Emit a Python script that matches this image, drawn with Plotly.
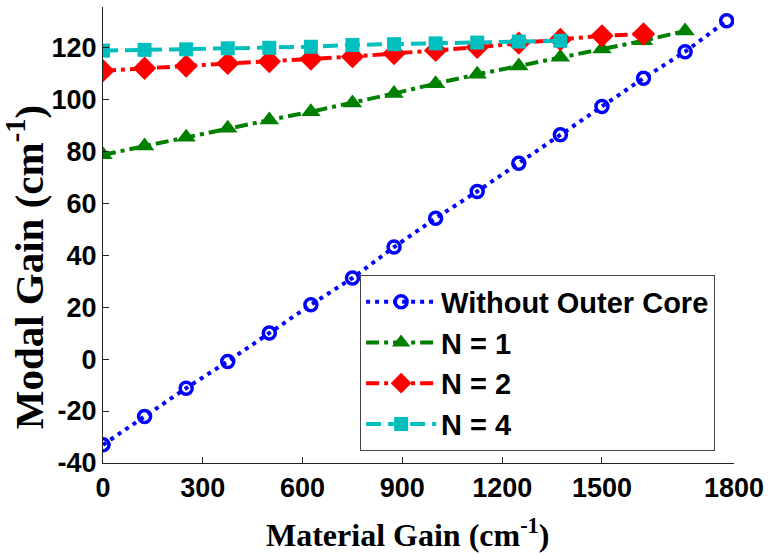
import plotly.graph_objects as go

# Material gain (cm^-1) sample points
gain_without = [0, 125, 250, 375, 500, 625, 750, 875, 1000, 1125, 1250, 1375, 1500, 1625, 1750, 1875]
gain_n1 = [0, 125, 250, 375, 500, 625, 750, 875, 1000, 1125, 1250, 1375, 1500, 1625, 1750]
gain_n2 = [0, 125, 250, 375, 500, 625, 750, 875, 1000, 1125, 1250, 1375, 1500, 1625]
gain_n4 = [0, 125, 250, 375, 500, 625, 750, 875, 1000, 1125, 1250, 1375]

# Modal gain (cm^-1) for each structure
modal_without = [-33.0, -22.1, -11.2, -0.9, 10.0, 20.9, 31.2, 43.1, 54.2, 64.5, 75.4, 86.3, 97.2, 108.1, 118.3, 130.2]
modal_n1 = [78.6, 82.0, 85.4, 88.8, 92.0, 95.2, 98.6, 102.2, 106.0, 109.6, 112.8, 116.2, 119.3, 122.5, 126.3]
modal_n2 = [111.0, 111.9, 112.8, 113.8, 114.5, 115.5, 116.4, 117.6, 118.8, 120.0, 121.6, 123.0, 124.4, 125.1]
modal_n4 = [118.7, 119.0, 119.2, 119.6, 119.8, 120.2, 120.9, 121.2, 121.5, 121.8, 122.2, 122.5]

series_names = ["Without Outer Core", "N = 1", "N = 2", "N = 4"]

# Axis settings
X_MAX = 1897
x_tick_vals = [0, 300, 600, 900, 1200, 1500, X_MAX]
x_tick_text = ["0", "300", "600", "900", "1200", "1500", "1800"]
y_range = [-40, 135.5]
y_tick_vals = [-40, -20, 0, 20, 40, 60, 80, 100, 120]
y_tick_text = ["-40", "-20", "0", "20", "40", "60", "80", "100", "120"]

x_title = "Material Gain (cm<sup>-1</sup>)"
y_title = "Modal Gain (cm<sup>-1</sup>)"

fig = go.Figure()

fig.add_trace(go.Scatter(
    x=gain_without, y=modal_without, name=series_names[0], mode="lines+markers",
    line=dict(color="#0000FF", width=4, dash="4px,5px"),
    marker=dict(symbol="circle-open", size=12, color="#0000FF", line=dict(width=3.5, color="#0000FF")),
))
fig.add_trace(go.Scatter(
    x=gain_n1, y=modal_n1, name=series_names[1], mode="lines+markers",
    line=dict(color="#008000", width=4, dash="13px,5px,4px,5px"),
    marker=dict(symbol="triangle-up", size=17, color="#008000"),
))
fig.add_trace(go.Scatter(
    x=gain_n2, y=modal_n2, name=series_names[2], mode="lines+markers",
    line=dict(color="#FF0000", width=4, dash="13px,5px,4px,5px"),
    marker=dict(symbol="diamond", size=18, color="#FF0000"),
))
fig.add_trace(go.Scatter(
    x=gain_n4, y=modal_n4, name=series_names[3], mode="lines+markers",
    line=dict(color="#00BFBF", width=4, dash="15px,7px"),
    marker=dict(symbol="square", size=14, color="#00BFBF"),
))

tick_font = dict(family="Liberation Sans", size=27, color="black", weight="bold")

fig.update_layout(
    width=771, height=555,
    margin=dict(l=103, r=32, t=7, b=92),
    paper_bgcolor="white", plot_bgcolor="white",
    showlegend=True,
    legend=dict(
        x=0.407, y=0.412, xanchor="left", yanchor="top",
        bgcolor="white", bordercolor="#444444", borderwidth=1.3,
        font=dict(family="Liberation Sans", size=29, color="black", weight="bold"),
        itemwidth=70, tracegroupgap=0,
    ),
    xaxis=dict(
        range=[0, X_MAX], tickmode="array", tickvals=x_tick_vals, ticktext=x_tick_text,
        showgrid=False, zeroline=False, showline=True, linecolor="#222222", linewidth=1.3,
        ticks="inside", ticklen=6, tickcolor="#222222", tickfont=tick_font,
    ),
    yaxis=dict(
        range=y_range, tickmode="array", tickvals=y_tick_vals, ticktext=y_tick_text,
        showgrid=False, zeroline=False, showline=True, linecolor="#222222", linewidth=1.3,
        ticks="inside", ticklen=6, tickcolor="#222222", tickfont=tick_font,
    ),
    annotations=[
        dict(text=x_title, xref="paper", yref="paper", x=0.483, y=-0.154,
             xanchor="center", yanchor="middle", showarrow=False,
             font=dict(family="Liberation Serif", size=32, color="black", weight="bold")),
        dict(text=y_title, xref="paper", yref="paper", x=-0.123, y=0.430,
             xanchor="center", yanchor="middle", showarrow=False, textangle=-90,
             font=dict(family="Liberation Serif", size=41, color="black", weight="bold")),
    ],
)

fig.write_html("out.html")
